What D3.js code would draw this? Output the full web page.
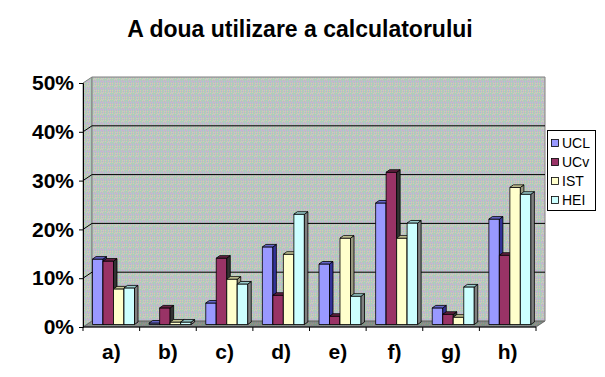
<!DOCTYPE html>
<html><head><meta charset="utf-8">
<script src="https://cdn.jsdelivr.net/npm/d3@7"></script>
<style>body{margin:0;background:#fff}svg{display:block}</style>
</head><body>
<script>
const categories = ["a)","b)","c)","d)","e)","f)","g)","h)"];
const series = ["UCL","UCv","IST","HEI"];
const UCL = [0.134,0.003,0.044,0.159,0.124,0.249,0.034,0.216];
const UCv = [0.130,0.034,0.136,0.060,0.017,0.312,0.021,0.142];
const IST = [0.073,0.005,0.093,0.144,0.177,0.177,0.015,0.281];
const HEI = [0.075,0.005,0.083,0.226,0.058,0.208,0.077,0.267];
const yTicks = [0,0.1,0.2,0.3,0.4,0.5];
const title = "A doua utilizare a calculatorului";

const values = {UCL, UCv, IST, HEI};
const colors = {
  UCL:{front:"#9999FF", top:"#6666CC", side:"#333399"},
  UCv:{front:"#993366", top:"#662244", side:"#333333"},
  IST:{front:"#FFFFCC", top:"#CCCC99", side:"#999980"},
  HEI:{front:"#CCFFFF", top:"#99CCCC", side:"#808080"}
};

const W=605,H=377;
const svg=d3.select("body").append("svg").attr("width",W).attr("height",H);
const defs=svg.append("defs");
const N=7;
const pat=defs.append("pattern").attr("id","tex").attr("patternUnits","userSpaceOnUse").attr("width",N).attr("height",N);
const pal=["#d0b0cc","#acccbc","#b8bcdc","#d4d0ac","#c0c0c0"];
for(let i=0;i<N;i++)for(let j=0;j<N;j++){
  pat.append("rect").attr("x",i).attr("y",j).attr("width",1).attr("height",1).attr("fill",pal[(i*i+3*j+i*j*2)%5]);
}

const x0=83,x1=536,dX=9,dY=-6;
const x=d3.scaleBand().domain(categories).range([x0,x1]);
const y=d3.scaleLinear().domain([0,0.5]).range([327,83]);
const xi=d3.scaleBand().domain(series).range([9.5,51.5]);
const bdx=3.5,bdy=-2.5, fX=0, fY=-2.5;

const yb=y(0), yt=y(0.5);
const poly=(pts)=>pts.map(p=>p.join(",")).join(" ");
// walls
svg.append("polygon").attr("points",poly([[x0,yb],[x0,yt],[x0+dX,yt+dY],[x0+dX,yb+dY]])).attr("fill","url(#tex)").attr("stroke","#808080").attr("stroke-width",1);
svg.append("polygon").attr("points",poly([[x0+dX,yt+dY],[x1+dX,yt+dY],[x1+dX,yb+dY],[x0+dX,yb+dY]])).attr("fill","url(#tex)").attr("stroke","#808080").attr("stroke-width",1);
svg.append("polygon").attr("points",poly([[x0,yb],[x1,yb],[x1+dX,yb+dY],[x0+dX,yb+dY]])).attr("fill","url(#tex)").attr("stroke","#808080").attr("stroke-width",1);
svg.append("polygon").attr("points",poly([[x0,yb],[x1,yb],[x1+dX,yb+dY],[x0+dX,yb+dY]])).attr("fill","rgba(0,0,0,0.28)");

// gridlines
const g=svg.append("g");
yTicks.filter(t=>t>0&&t<0.5).forEach(t=>{
  g.append("polyline").attr("points",poly([[x0,y(t)],[x0+dX,y(t)+dY],[x1+dX,y(t)+dY]])).attr("fill","none").attr("stroke","#000").attr("stroke-width",1);
});

// bars
const bars=svg.append("g").attr("stroke","#000").attr("stroke-width",0.8).attr("stroke-linejoin","round");
categories.forEach((c,ci)=>{
  series.forEach(s=>{
    const v=values[s][ci];
    const bx=x(c)+xi(s)+fX, bw=xi.bandwidth();
    const top=y(v)+fY, bot=y(0)+fY;
    const col=colors[s];
    bars.append("rect").attr("x",bx).attr("y",top).attr("width",bw).attr("height",bot-top).attr("fill",col.front);
    bars.append("polygon").attr("points",poly([[bx+bw,top],[bx+bw+bdx,top+bdy],[bx+bw+bdx,bot+bdy],[bx+bw,bot]])).attr("fill",col.side);
    bars.append("polygon").attr("points",poly([[bx,top],[bx+bdx,top+bdy],[bx+bw+bdx,top+bdy],[bx+bw,top]])).attr("fill",col.top);
  });
});

const FONT="Liberation Sans, Arial, sans-serif";
// axes
const ya=svg.append("g").attr("transform",`translate(${x0},0)`)
  .call(d3.axisLeft(y).tickValues(yTicks).tickFormat(d3.format(".0%")).tickSize(4).tickPadding(5));
ya.select(".domain").attr("stroke","#000");
ya.selectAll("text").attr("font-family",FONT).attr("font-weight","bold").attr("font-size",21).attr("fill","#000");

const xa=svg.append("g").attr("transform",`translate(0,${yb})`)
  .call(d3.axisBottom(x).tickSize(0).tickPadding(17));
xa.select(".domain").remove();
xa.append("line").attr("x1",x0).attr("x2",x1).attr("stroke","#000");
categories.concat(["end"]).forEach((c,i)=>{
  const xx = i<categories.length? x(c) : x1;
  xa.append("line").attr("x1",xx).attr("x2",xx).attr("y1",0).attr("y2",4).attr("stroke","#000");
});
xa.selectAll("text").attr("font-family",FONT).attr("font-weight","bold").attr("font-size",21).attr("fill","#000");

// title
svg.append("text").attr("x",300).attr("y",37).attr("text-anchor","middle")
  .attr("font-family",FONT).attr("font-weight","bold").attr("font-size",23).text(title);

// legend
const lg=svg.append("g");
lg.append("rect").attr("x",547.5).attr("y",130.5).attr("width",48).attr("height",80).attr("fill","#fff").attr("stroke","#000");
series.forEach((s,i)=>{
  const cy=143+i*19;
  lg.append("rect").attr("x",551.5).attr("y",cy-3.5).attr("width",7).attr("height",7).attr("fill",colors[s].front).attr("stroke","#000").attr("stroke-width",0.8);
  lg.append("text").attr("x",562).attr("y",cy+5).attr("font-family",FONT).attr("font-size",14).attr("fill","#000").text(s);
});
</script>
</body></html>
